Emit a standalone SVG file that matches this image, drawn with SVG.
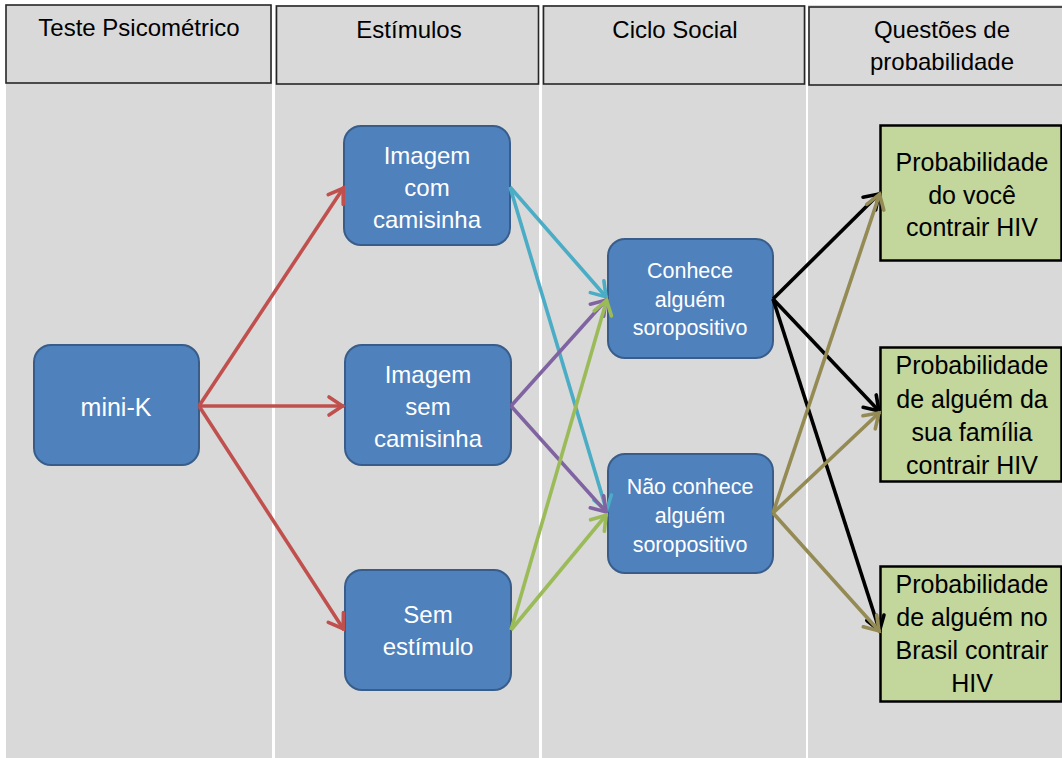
<svg xmlns="http://www.w3.org/2000/svg" width="1062" height="758" viewBox="0 0 1062 758">
<style>
.col{fill:#d9d9d9}
.hdr{fill:#d9d9d9;stroke:#262626;stroke-width:1.6}
.ht{font-family:"Liberation Sans",Arial,sans-serif;font-size:24px;fill:#000;text-anchor:middle}
.blue{fill:#4f81bd;stroke:#385d8a;stroke-width:2}
.bt{font-family:"Liberation Sans",Arial,sans-serif;font-size:24px;fill:#fff;text-anchor:middle}
.bs{font-family:"Liberation Sans",Arial,sans-serif;font-size:21.5px;fill:#fff;text-anchor:middle}
.grn{fill:#c3d69b;stroke:#000;stroke-width:2.5}
.gt{font-family:"Liberation Sans",Arial,sans-serif;font-size:25px;fill:#000;text-anchor:middle}
.c{fill:none;stroke-width:3.6}
.red{stroke:#c0504d}.cya{stroke:#4bacc6}.pur{stroke:#8064a2}.lim{stroke:#9bbb59}.blk{stroke:#000}.kha{stroke:#948a54}
</style>
<defs>
<marker id="mr" viewBox="-18 -11 20 22" refX="0" refY="0" markerWidth="20" markerHeight="22" markerUnits="userSpaceOnUse" orient="auto" overflow="visible"><path d="M-15,-9 L-1.5,0 L-15,9" fill="none" stroke="#c0504d" stroke-width="3.6" stroke-linecap="round"/></marker>
<marker id="mc" viewBox="-18 -11 20 22" refX="0" refY="0" markerWidth="20" markerHeight="22" markerUnits="userSpaceOnUse" orient="auto" overflow="visible"><path d="M-15,-9 L-1.5,0 L-15,9" fill="none" stroke="#4bacc6" stroke-width="3.6" stroke-linecap="round"/></marker>
<marker id="mp" viewBox="-18 -11 20 22" refX="0" refY="0" markerWidth="20" markerHeight="22" markerUnits="userSpaceOnUse" orient="auto" overflow="visible"><path d="M-15,-9 L-1.5,0 L-15,9" fill="none" stroke="#8064a2" stroke-width="3.6" stroke-linecap="round"/></marker>
<marker id="ml" viewBox="-18 -11 20 22" refX="0" refY="0" markerWidth="20" markerHeight="22" markerUnits="userSpaceOnUse" orient="auto" overflow="visible"><path d="M-15,-9 L-1.5,0 L-15,9" fill="none" stroke="#9bbb59" stroke-width="3.6" stroke-linecap="round"/></marker>
<marker id="mb" viewBox="-18 -11 20 22" refX="0" refY="0" markerWidth="20" markerHeight="22" markerUnits="userSpaceOnUse" orient="auto" overflow="visible"><path d="M-15,-9 L-1.5,0 L-15,9" fill="none" stroke="#000" stroke-width="3.6" stroke-linecap="round"/></marker>
<marker id="mk" viewBox="-18 -11 20 22" refX="0" refY="0" markerWidth="20" markerHeight="22" markerUnits="userSpaceOnUse" orient="auto" overflow="visible"><path d="M-15,-9 L-1.5,0 L-15,9" fill="none" stroke="#948a54" stroke-width="3.6" stroke-linecap="round"/></marker>
</defs>
<rect width="1062" height="758" fill="#fff"/>
<g id="columns">
<rect class="col" x="6" y="5" width="266" height="753"/>
<rect class="col" x="275" y="5" width="264" height="753"/>
<rect class="col" x="542" y="5" width="264" height="753"/>
<rect class="col" x="808" y="5" width="254" height="753"/>
</g>
<g id="header-teste">
<rect class="hdr" x="6" y="5" width="265" height="78"/>
<text class="ht" x="139" y="36">Teste Psicométrico</text>
</g>
<g id="header-estimulos">
<rect class="hdr" x="276.5" y="6" width="262" height="78"/>
<text class="ht" x="409" y="38">Estímulos</text>
</g>
<g id="header-ciclo">
<rect class="hdr" x="543.5" y="6" width="261" height="78"/>
<text class="ht" x="675" y="38">Ciclo Social</text>
</g>
<g id="header-questoes">
<rect class="hdr" x="809" y="7" width="265" height="78"/>
<text class="ht" x="942" y="38">Questões de</text>
<text class="ht" x="942" y="70">probabilidade</text>
</g>
<g id="node-minik">
<rect class="blue" x="34" y="345" width="165" height="120" rx="17"/>
<text class="bt" x="116" y="416" style="font-size:25px">mini-K</text>
</g>
<g id="node-com">
<rect class="blue" x="344" y="126" width="166" height="119" rx="17"/>
<text class="bt" x="427" y="164">Imagem</text>
<text class="bt" x="427" y="196">com</text>
<text class="bt" x="427" y="228">camisinha</text>
</g>
<g id="node-sem">
<rect class="blue" x="345" y="345" width="166" height="120" rx="17"/>
<text class="bt" x="428" y="383">Imagem</text>
<text class="bt" x="428" y="415">sem</text>
<text class="bt" x="428" y="447">camisinha</text>
</g>
<g id="node-semestimulo">
<rect class="blue" x="345" y="570" width="166" height="120" rx="17"/>
<text class="bt" x="428" y="623">Sem</text>
<text class="bt" x="428" y="655">estímulo</text>
</g>
<g id="node-conhece">
<rect class="blue" x="608" y="239" width="165" height="119" rx="17"/>
<text class="bs" x="690" y="278">Conhece</text>
<text class="bs" x="690" y="307">alguém</text>
<text class="bs" x="690" y="335">soropositivo</text>
</g>
<g id="node-naoconhece">
<rect class="blue" x="608" y="454" width="165" height="119" rx="17"/>
<text class="bs" x="690" y="494">Não conhece</text>
<text class="bs" x="690" y="523">alguém</text>
<text class="bs" x="690" y="552">soropositivo</text>
</g>
<g id="node-prob-voce">
<rect class="grn" x="880.5" y="125.5" width="181" height="135"/>
<text class="gt" x="972" y="171">Probabilidade</text>
<text class="gt" x="972" y="204">do você</text>
<text class="gt" x="972" y="236">contrair HIV</text>
</g>
<g id="node-prob-familia">
<rect class="grn" x="880.5" y="347.5" width="181" height="134"/>
<text class="gt" x="972" y="374">Probabilidade</text>
<text class="gt" x="972" y="408">de alguém da</text>
<text class="gt" x="972" y="441">sua família</text>
<text class="gt" x="972" y="474">contrair HIV</text>
</g>
<g id="node-prob-brasil">
<rect class="grn" x="880.5" y="566.5" width="181" height="135"/>
<text class="gt" x="972" y="593">Probabilidade</text>
<text class="gt" x="972" y="626">de alguém no</text>
<text class="gt" x="972" y="659">Brasil contrair</text>
<text class="gt" x="972" y="692">HIV</text>
</g>
<g id="connectors">
<path class="c red" d="M199,406 L344,187" marker-end="url(#mr)"/>
<path class="c red" d="M199,406 L344,406" marker-end="url(#mr)"/>
<path class="c red" d="M199,406 L344,630" marker-end="url(#mr)"/>
<path class="c cya" d="M510,187 L607,298" marker-end="url(#mc)"/>
<path class="c cya" d="M510,187 L607,512" marker-end="url(#mc)"/>
<path class="c pur" d="M511,406 L607,299" marker-end="url(#mp)"/>
<path class="c pur" d="M511,406 L607,513" marker-end="url(#mp)"/>
<path class="c lim" d="M511,630 L607,299" marker-end="url(#ml)"/>
<path class="c lim" d="M511,630 L607,514" marker-end="url(#ml)"/>
<path class="c blk" d="M773,299 L880,193" marker-end="url(#mb)"/>
<path class="c blk" d="M773,299 L880,412" marker-end="url(#mb)"/>
<path class="c blk" d="M773,299 L880,632" marker-end="url(#mb)"/>
<path class="c kha" d="M773,513 L880,193" marker-end="url(#mk)"/>
<path class="c kha" d="M773,513 L880,412" marker-end="url(#mk)"/>
<path class="c kha" d="M773,513 L880,632" marker-end="url(#mk)"/>
</g>
</svg>
